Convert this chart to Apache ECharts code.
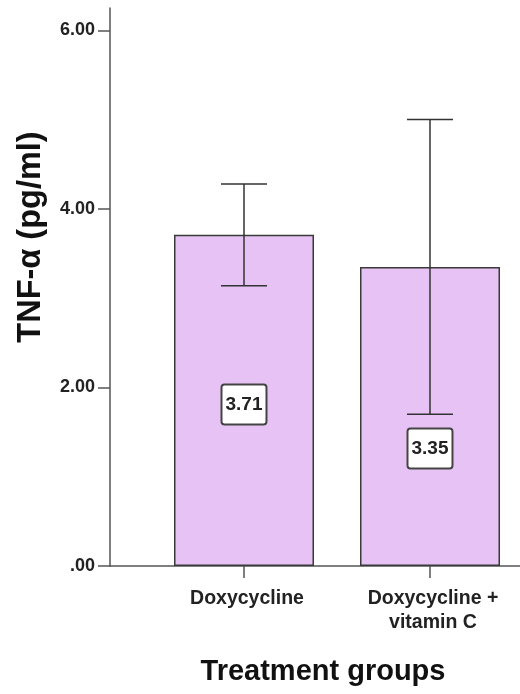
<!DOCTYPE html>
<html>
<head>
<meta charset="utf-8">
<script src="https://cdn.jsdelivr.net/npm/echarts@6/dist/echarts.min.js"></script>
<style>
  html, body { margin: 0; padding: 0; background: #fff; }
  #chart { width: 520px; height: 694px; }
</style>
</head>
<body>
<div id="chart"></div>
<script>
// Treatment groups and their mean TNF-α with error-bar limits
const categories = ['Doxycycline', 'Doxycycline +\nvitamin C'];
const means = [3.71, 3.35];
const errLow = [3.14, 1.70];
const errHigh = [4.28, 5.00];
const yTicks = [0, 2, 4, 6];

const FONT = '"Liberation Sans", Arial, sans-serif';
const positions = categories.map((c, i) => i);
const labelOffsets = [[0, 4], [0, 32]];

const chart = echarts.init(document.getElementById('chart'), null, { renderer: 'canvas' });

chart.setOption({
  animation: false,
  backgroundColor: '#ffffff',
  grid: { left: 110, right: 0, top: 8, bottom: 128, containLabel: false, outerBoundsMode: 'none' },
  xAxis: {
    type: 'value',
    min: -0.7204,
    max: 1.4839,
    name: 'Treatment groups',
    nameLocation: 'middle',
    nameGap: 91,
    nameTextStyle: { fontFamily: FONT, fontWeight: 'bold', fontSize: 29, color: '#111', padding: [0, 0, 0, 16] },
    axisLine: { show: true, onZero: false, lineStyle: { color: '#555', width: 1.5 } },
    axisTick: { show: true, customValues: positions, length: 12, inside: false, lineStyle: { color: '#555', width: 1.5 } },
    axisLabel: {
      customValues: positions,
      formatter: v => categories[Math.round(v)] || '',
      fontFamily: FONT, fontWeight: 'bold', fontSize: 19.5, color: '#222',
      lineHeight: 24, margin: 21, padding: [0, 0, 0, 6]
    },
    splitLine: { show: false }
  },
  yAxis: {
    type: 'value',
    min: 0,
    max: 6.25,
    name: 'TNF-α (pg/ml)',
    nameLocation: 'middle',
    nameRotate: 90,
    nameGap: 62,
    nameTextStyle: { fontFamily: FONT, fontWeight: 'bold', fontSize: 32.5, color: '#111', padding: [0, 0, 0, 100] },
    axisLine: { show: true, onZero: false, lineStyle: { color: '#555', width: 1.5 } },
    axisTick: { show: true, customValues: yTicks, length: 12, lineStyle: { color: '#555', width: 1.5 } },
    axisLabel: {
      customValues: yTicks,
      formatter: v => (v === 0 ? '.00' : v.toFixed(2)),
      fontFamily: FONT, fontWeight: 'bold', fontSize: 18, color: '#222', margin: 15
    },
    splitLine: { show: false }
  },
  series: [
    {
      type: 'bar',
      barWidth: 140,
      data: means.map((m, i) => ({
        value: [positions[i], m],
        label: { offset: labelOffsets[i] }
      })),
      itemStyle: { color: '#e6c3f4', borderColor: '#3a3a3a', borderWidth: 1.5 },
      label: {
        show: true,
        position: 'inside',
        formatter: p => p.value[1].toFixed(2),
        fontFamily: FONT, fontWeight: 'bold', fontSize: 19, color: '#222',
        backgroundColor: '#ffffff',
        borderColor: '#444', borderWidth: 2, borderRadius: 2,
        lineHeight: 20,
        padding: [9, 3, 9, 3]
      },
      z: 2
    },
    {
      type: 'custom',
      data: errLow.map((lo, i) => [positions[i], lo, errHigh[i]]),
      renderItem: (params, api) => {
        const x = api.value(0);
        const lo = api.coord([x, api.value(1)]);
        const hi = api.coord([x, api.value(2)]);
        const half = 23;
        const style = { stroke: '#333', lineWidth: 1.5 };
        return {
          type: 'group',
          children: [
            { type: 'line', shape: { x1: lo[0], y1: lo[1], x2: hi[0], y2: hi[1] }, style },
            { type: 'line', shape: { x1: hi[0] - half, y1: hi[1], x2: hi[0] + half, y2: hi[1] }, style },
            { type: 'line', shape: { x1: lo[0] - half, y1: lo[1], x2: lo[0] + half, y2: lo[1] }, style }
          ]
        };
      },
      z: 3
    }
  ]
});
</script>
</body>
</html>
